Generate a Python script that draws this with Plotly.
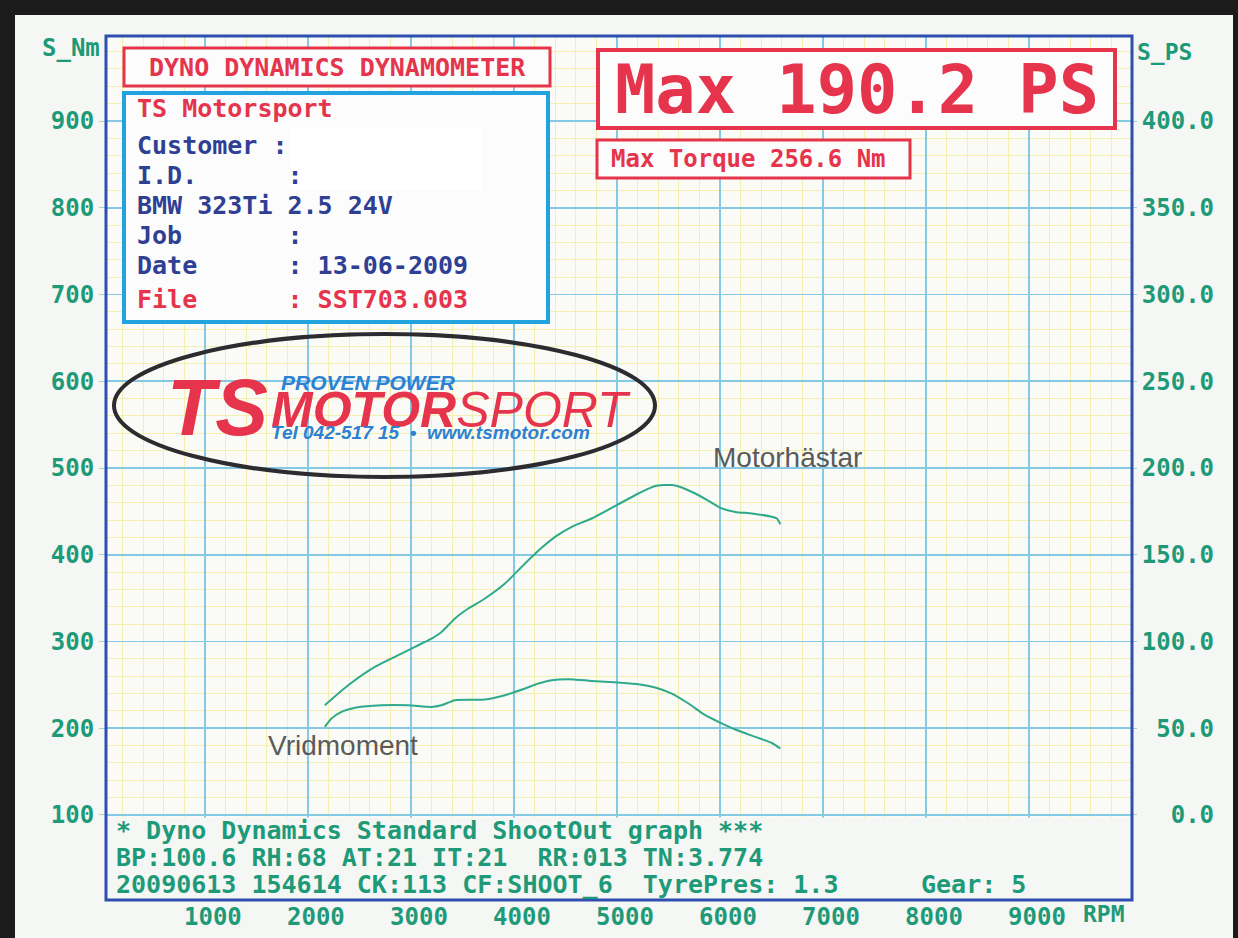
import plotly.graph_objects as go

# ---------------- data (read from the dyno sheet) ----------------
rpm_power = [2164, 2391, 2650, 2877, 3039, 3200, 3297, 3428, 3557, 3719, 3913, 4108, 4269,
             4399, 4561, 4755, 4998, 5209, 5371, 5533, 5630, 5760, 5889, 6018, 6149, 6310,
             6504, 6553, 6586]
power_ps = [63.3, 74.8, 85.4, 92.1, 96.9, 101.7, 105.5, 113.3, 119.0, 124.8, 133.4, 145.0, 154.0,
            160.3, 166.1, 170.9, 178.6, 185.3, 189.6, 190.2, 188.8, 185.3, 181.1, 176.7, 174.7,
            173.8, 171.9, 170.9, 167.6]

rpm_torque = [2164, 2229, 2326, 2471, 2714, 2974, 3200, 3297, 3428, 3719, 3913, 4108, 4237,
              4367, 4529, 4755, 5015, 5209, 5371, 5533, 5695, 5857, 5986, 6149, 6343, 6504, 6586]
torque_nm = [201.5, 211.2, 218.8, 223.9, 226.5, 226.5, 224.6, 226.5, 232.3, 233.1, 238.1, 245.8,
             251.5, 255.4, 256.6, 254.6, 252.7, 250.8, 247.0, 240.0, 228.5, 215.0, 207.3, 198.5,
             190.0, 183.0, 176.6]

rpm_ticks = [1000, 2000, 3000, 4000, 5000, 6000, 7000, 8000, 9000]
nm_ticks = [100, 200, 300, 400, 500, 600, 700, 800, 900]
ps_ticks = [0, 50, 100, 150, 200, 250, 300, 350, 400]
ps_tick_labels = ["0.0", "50.0", "100.0", "150.0", "200.0", "250.0", "300.0", "350.0", "400.0"]

info_lines = [
    ("TS Motorsport", "red"),
    ("Customer :", "navy"),
    ("I.D.      :", "navy"),
    ("BMW 323Ti 2.5 24V", "navy"),
    ("Job       :", "navy"),
    ("Date      : 13-06-2009", "navy"),
    ("File      : SST703.003", "red"),
]
footer_lines = [
    "* Dyno Dynamics Standard ShootOut graph ***",
    "BP:100.6 RH:68 AT:21 IT:21  RR:013 TN:3.774",
    "20090613 154614 CK:113 CF:SHOOT_6  TyrePres: 1.3",
]
gear_text = "Gear: 5"

# ---------------- styling ----------------
W, H = 1238, 938
ML, MR, MT, MB = 106, 106, 36, 38
PW, PH = W - ML - MR, H - MT - MB

BG = "#f5f7f5"
PLOT_BG = "#fafbf6"
TEAL = "#1f9a78"
CURVE = "#2fa98c"
RED = "#e5344b"
NAVY = "#2f3f93"
CYAN = "#22a2de"
BORDER = "#2f4fb0"
MAJOR = "#86c9e4"
MINOR = "#f3efb0"
MONO = "DejaVu Sans Mono"
SANS = "Liberation Sans"
COLORS = {"red": RED, "navy": NAVY}


def nb(s):
    return s.replace(" ", "\u00a0")


def px(x):
    return (x - ML) / PW


def py(y):
    return 1 - (y - MT) / PH


fig = go.Figure()
fig.add_trace(go.Scatter(x=rpm_torque, y=torque_nm, mode="lines", yaxis="y",
                         line=dict(color=CURVE, width=2, shape="spline", smoothing=0.6),
                         hoverinfo="skip"))
fig.add_trace(go.Scatter(x=rpm_power, y=power_ps, mode="lines", yaxis="y2",
                         line=dict(color=CURVE, width=2, shape="spline", smoothing=0.6),
                         hoverinfo="skip"))

tick_font = dict(family=MONO, size=24, color=TEAL, weight="bold")

fig.update_layout(
    width=W, height=H,
    margin=dict(l=ML, r=MR, t=MT, b=MB, pad=0, autoexpand=False),
    paper_bgcolor=BG, plot_bgcolor=PLOT_BG,
    showlegend=False,
    xaxis=dict(range=[40, 10000], tickmode="array", tickvals=rpm_ticks,
               ticktext=[str(v) for v in rpm_ticks], automargin=False,
               showgrid=True, gridcolor=MAJOR, gridwidth=1.6, zeroline=False,
               ticks="", tickfont=tick_font, ticklabelshift=8, ticklabelstandoff=0,
               minor=dict(tickmode="linear", tick0=0, dtick=200, showgrid=True,
                          gridcolor=MINOR, gridwidth=1),
               fixedrange=True),
    yaxis=dict(range=[2, 998], tickmode="array", tickvals=nm_ticks,
               ticktext=[str(v) for v in nm_ticks], automargin=False,
               showgrid=True, gridcolor=MAJOR, gridwidth=1.6, zeroline=False,
               ticks="outside", ticklen=6, tickcolor="#9fd3d0", tickwidth=1,
               tickfont=tick_font,
               minor=dict(tickmode="linear", tick0=0, dtick=20, showgrid=True,
                          gridcolor=MINOR, gridwidth=1),
               fixedrange=True),
    yaxis2=dict(range=[-49, 449], overlaying="y", side="right", tickmode="array",
                tickvals=ps_ticks, automargin=False,
                ticktext=[nb(t.rjust(5)) for t in ps_tick_labels],
                showgrid=False, zeroline=False,
                ticks="outside", ticklen=4, tickcolor="#9fd3d0", tickwidth=1,
                tickfont=tick_font, fixedrange=True),
)

shapes = []
# white footer panel over the lowest band of the grid
shapes.append(dict(type="rect", xref="paper", yref="y", x0=0, x1=1, y0=2, y1=97,
                   fillcolor=BG, line=dict(width=0), layer="above"))
# header boxes
shapes.append(dict(type="rect", xref="paper", yref="paper", x0=px(124), x1=px(550),
                   y0=py(86), y1=py(48), fillcolor="#fbfcfb",
                   line=dict(color=RED, width=3), layer="above"))
shapes.append(dict(type="rect", xref="paper", yref="paper", x0=px(124), x1=px(548),
                   y0=py(322), y1=py(93), fillcolor="#fbfcfb",
                   line=dict(color=CYAN, width=4), layer="above"))
shapes.append(dict(type="rect", xref="paper", yref="paper", x0=px(291), x1=px(482),
                   y0=py(190), y1=py(128), fillcolor="#ffffff",
                   line=dict(width=0), layer="above"))
shapes.append(dict(type="rect", xref="paper", yref="paper", x0=px(598), x1=px(1115),
                   y0=py(128), y1=py(50), fillcolor="#fbfcfb",
                   line=dict(color=RED, width=4), layer="above"))
shapes.append(dict(type="rect", xref="paper", yref="paper", x0=px(597), x1=px(910),
                   y0=py(178), y1=py(140), fillcolor="#fbfcfb",
                   line=dict(color=RED, width=3), layer="above"))
# logo ellipse
shapes.append(dict(type="circle", xref="paper", yref="paper", x0=px(114), x1=px(655),
                   y0=py(477), y1=py(334), line=dict(color="#2b2b30", width=4),
                   layer="above"))
# plot frame
shapes.append(dict(type="rect", xref="paper", yref="paper", x0=0, x1=1, y0=0, y1=1,
                   line=dict(color=BORDER, width=3), layer="above"))
# black photo frame
shapes.append(dict(type="rect", xref="paper", yref="paper", x0=px(0), x1=px(15),
                   y0=py(H), y1=py(0), fillcolor="#1b1b1b", line=dict(width=0), layer="above"))
shapes.append(dict(type="rect", xref="paper", yref="paper", x0=px(0), x1=px(W),
                   y0=py(15), y1=py(0), fillcolor="#1b1b1b", line=dict(width=0), layer="above"))
shapes.append(dict(type="rect", xref="paper", yref="paper", x0=px(1233), x1=px(W),
                   y0=py(H), y1=py(0), fillcolor="#1b1b1b", line=dict(width=0), layer="above"))
fig.update_layout(shapes=shapes)


def ann(text, x, y, size, color, family=MONO, weight="bold", xanchor="left", style="normal"):
    fig.add_annotation(text=text, xref="paper", yref="paper", x=px(x), y=py(y),
                       xanchor=xanchor, yanchor="middle", showarrow=False,
                       font=dict(family=family, size=size, color=color, weight=weight,
                                 style=style),
                       borderpad=0)


# axis titles
ann("S_Nm", 41, 48, 24, TEAL)
ann("S_PS", 1136, 52, 23, TEAL)
ann("RPM", 1082, 914, 23, TEAL)

# header texts
ann(nb("DYNO DYNAMICS DYNAMOMETER"), 337, 67, 25, RED, xanchor="center")
info_y = [109, 145, 175, 205, 235, 265, 299]
for (txt, col), yy in zip(info_lines, info_y):
    ann(nb(txt), 136, yy, 25, COLORS[col])
ann(nb("Max 190.2 PS"), 857, 90, 67, RED, xanchor="center")
ann(nb("Max Torque 256.6 Nm"), 610, 159, 24, RED)

# logo
ann("TS", 166, 407, 79, RED, family=SANS, style="italic")
ann("PROVEN POWER", 280, 382, 21, "#2d80d2", family=SANS, style="italic")
ann("<b>MOTOR</b>SPORT", 270, 410, 50, RED, family=SANS, weight="normal", style="italic")
ann(nb("Tel 042-517 15  •  www.tsmotor.com"), 270, 433, 19, "#2d80d2", family=SANS,
    style="italic")

# curve labels
ann("Motorhästar", 712, 457, 28, "#5a5a5a", family=SANS, weight="normal")
ann("Vridmoment", 267, 745, 28, "#5a5a5a", family=SANS, weight="normal")

# footer
for txt, yy in zip(footer_lines, [830, 857, 884]):
    ann(nb(txt), 115, yy, 25, TEAL)
ann(nb(gear_text), 920, 884, 25, TEAL)

page_fix = (
    "var s=document.createElement('style');"
    "s.textContent='html,body{margin:0;padding:0;overflow:hidden;background:" + BG + ";}"
    ".plotly-graph-div{display:block;}';"
    "document.head.appendChild(s);"
)
fig.write_html("out.html", config={"displayModeBar": False, "staticPlot": True},
               post_script=page_fix)
